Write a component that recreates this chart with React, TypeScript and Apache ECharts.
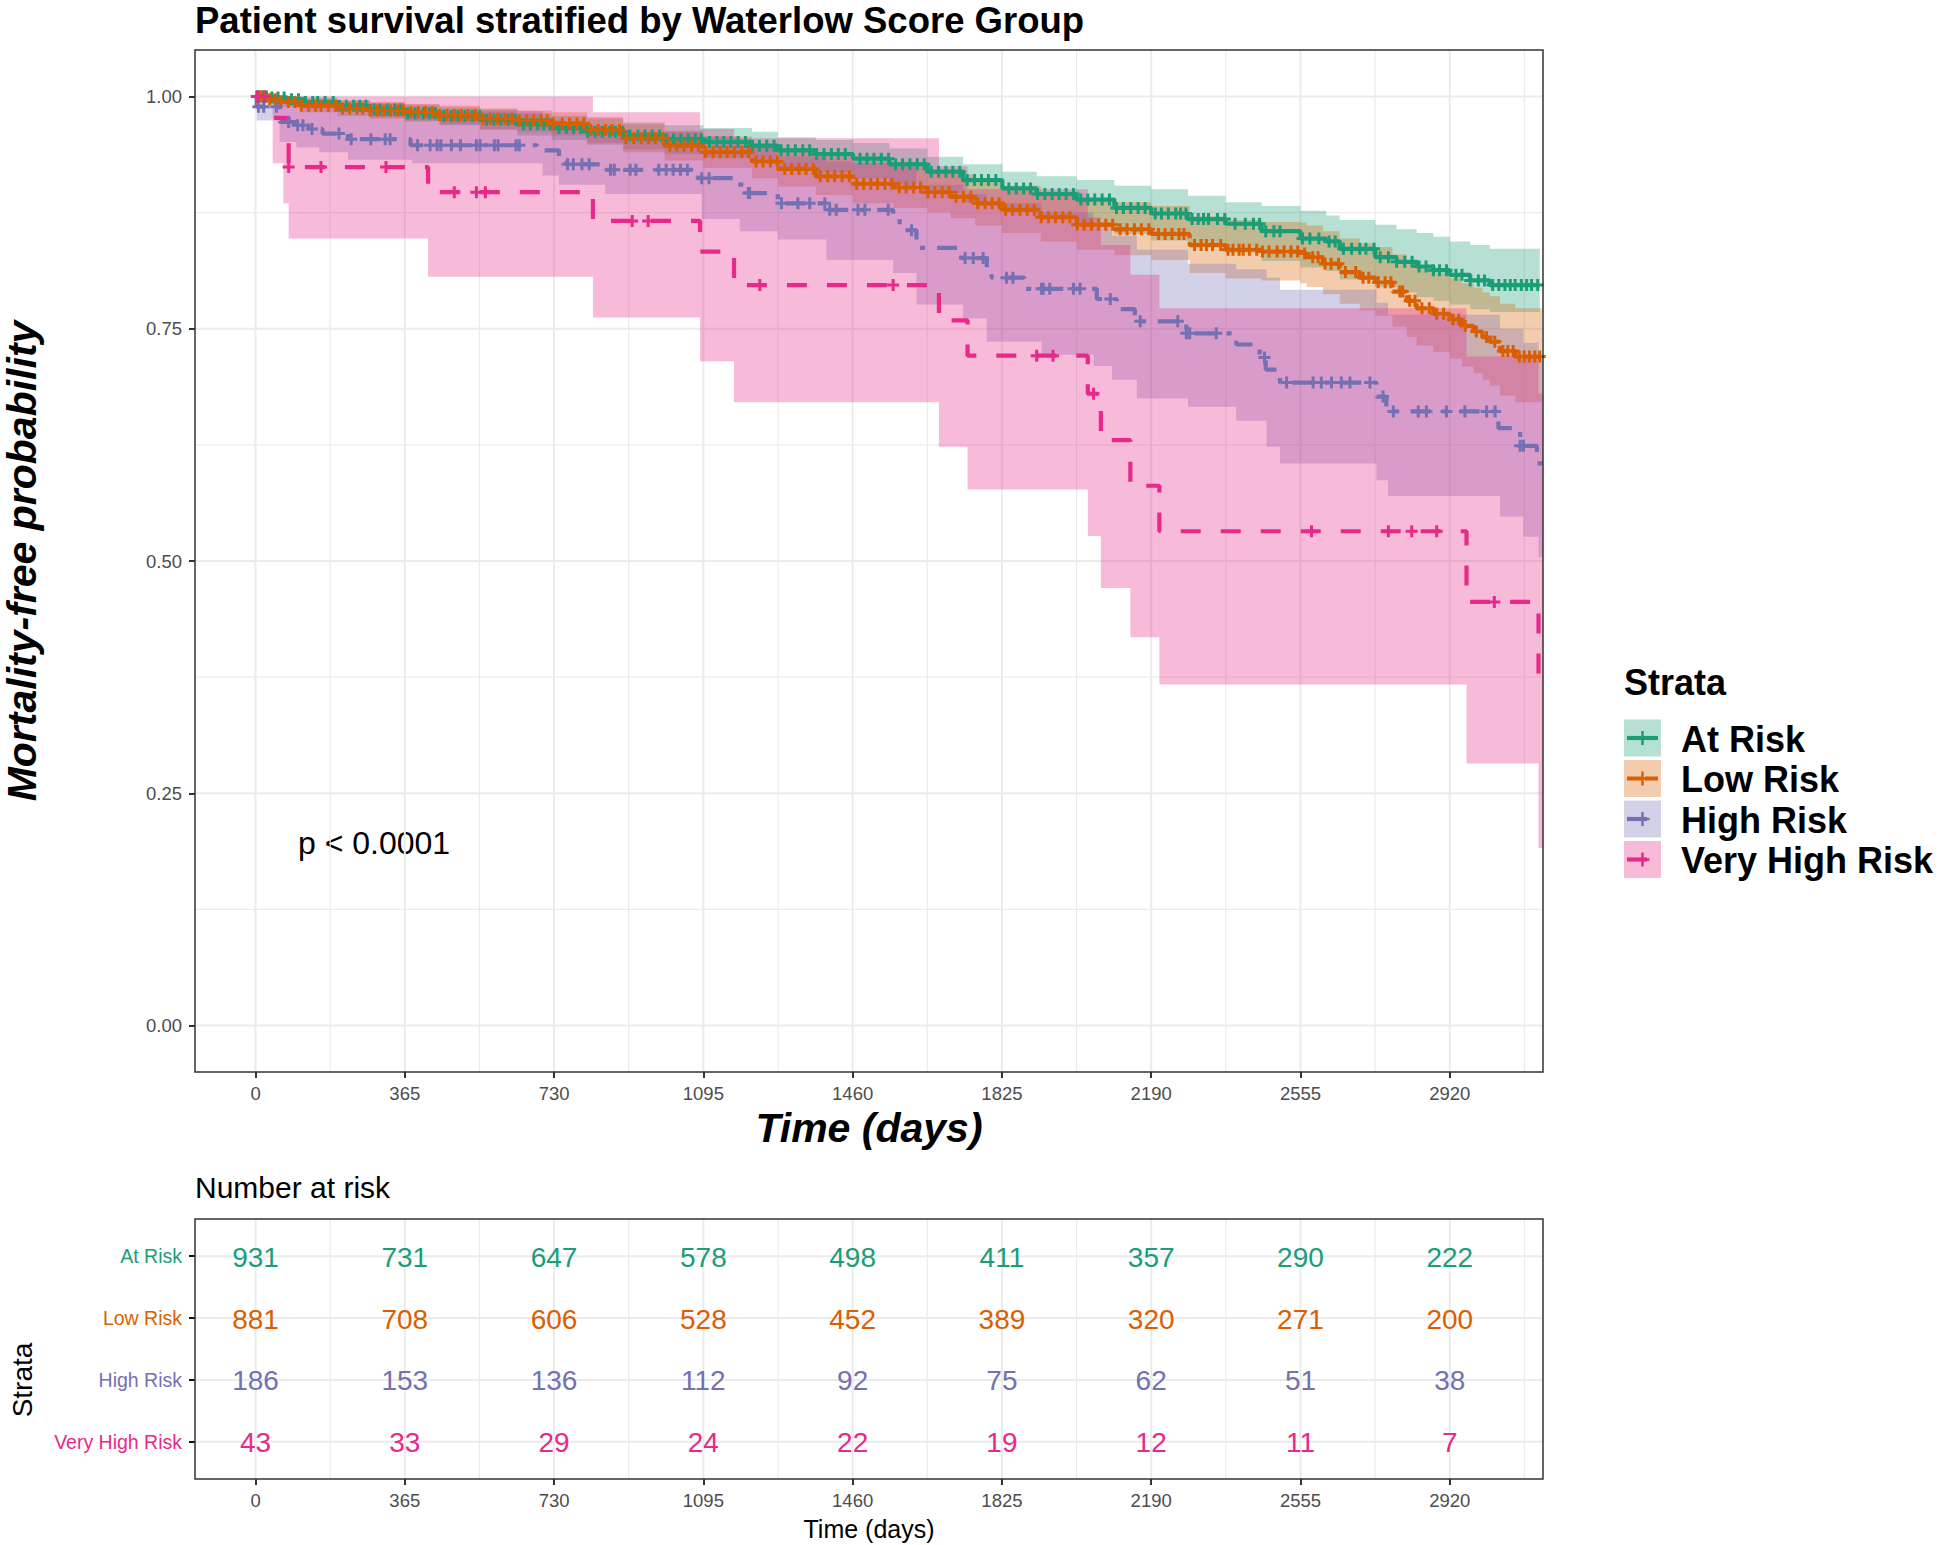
import React, { useEffect, useRef } from "react";
import * as echarts from "echarts";

// ---------- DATA ----------
const STRATA = ["At Risk", "Low Risk", "High Risk", "Very High Risk"];
const COLORS = ["#1B9E77", "#D95F02", "#7570B3", "#E7298A"];
const X_TICKS = [0, 365, 730, 1095, 1460, 1825, 2190, 2555, 2920];
const X_MINOR = [182.5, 547.5, 912.5, 1277.5, 1642.5, 2007.5, 2372.5, 2737.5, 3102.5];
const Y_TICKS = [0, 0.25, 0.5, 0.75, 1];
const Y_MINOR = [0.125, 0.375, 0.625, 0.875];
const TABLE_ROWS = [1, 2, 3, 4];

// Kaplan-Meier steps: [day, survival]
const AT_RISK_KM = [
  [0, 1.0], [30, 0.999], [77, 0.997], [120, 0.994], [200, 0.99], [280, 0.986], [365, 0.982], [450, 0.979],
  [549, 0.975], [640, 0.97], [724, 0.966], [810, 0.962], [899, 0.958], [1000, 0.954], [1095, 0.951],
  [1214, 0.947], [1277, 0.942], [1370, 0.938], [1461, 0.933], [1550, 0.927], [1643, 0.919], [1730, 0.91],
  [1826, 0.901], [1910, 0.895], [2008, 0.889], [2100, 0.88], [2190, 0.874], [2280, 0.868], [2372, 0.863],
  [2460, 0.855], [2555, 0.847], [2618, 0.844], [2651, 0.836], [2738, 0.827], [2790, 0.822], [2839, 0.817],
  [2880, 0.813], [2920, 0.808], [2970, 0.802], [3018, 0.797], [3140, 0.797],
];
const LOW_RISK_KM = [
  [0, 1.0], [25, 0.997], [50, 0.994], [112, 0.99], [200, 0.987], [280, 0.985], [365, 0.983], [450, 0.98],
  [549, 0.976], [640, 0.974], [724, 0.971], [811, 0.964], [899, 0.955], [1000, 0.947], [1095, 0.94],
  [1214, 0.93], [1277, 0.922], [1370, 0.914], [1461, 0.906], [1560, 0.902], [1643, 0.897], [1700, 0.892],
  [1760, 0.885], [1826, 0.878], [1920, 0.87], [2008, 0.862], [2100, 0.857], [2190, 0.852], [2284, 0.84],
  [2372, 0.835], [2460, 0.833], [2555, 0.831], [2570, 0.827], [2610, 0.82], [2651, 0.811], [2700, 0.805],
  [2738, 0.8], [2780, 0.79], [2815, 0.78], [2839, 0.772], [2880, 0.766], [2920, 0.76], [2950, 0.753],
  [2978, 0.747], [3000, 0.741], [3018, 0.736], [3043, 0.726], [3080, 0.72], [3145, 0.72],
];
const HIGH_RISK_KM = [
  [0, 1.0], [3, 0.989], [59, 0.9725], [100, 0.969], [130, 0.965], [164, 0.96], [226, 0.954], [379, 0.9475],
  [689, 0.942], [742, 0.93], [760, 0.927], [855, 0.921], [1083, 0.912], [1179, 0.905], [1200, 0.896],
  [1277, 0.885], [1400, 0.878], [1559, 0.869], [1575, 0.856], [1616, 0.837], [1726, 0.826], [1788, 0.812],
  [1800, 0.805], [1880, 0.793], [2057, 0.782], [2106, 0.771], [2150, 0.758], [2276, 0.745], [2398, 0.733],
  [2455, 0.719], [2470, 0.706], [2505, 0.692], [2741, 0.677], [2765, 0.661], [3039, 0.643], [3092, 0.624],
  [3133, 0.605], [3148, 0.605],
];
const VERY_HIGH_KM = [
  [0, 1.0], [42, 0.977], [81, 0.924], [422, 0.897], [825, 0.866], [1087, 0.833], [1170, 0.797],
  [1671, 0.759], [1741, 0.721], [2035, 0.68], [2067, 0.63], [2139, 0.581], [2210, 0.532], [2961, 0.456],
  [3137, 0.366], [3148, 0.366],
];

// Confidence bands: [day, lower, upper]
const AT_RISK_CI = [
  [0, 1, 1], [30, 0.997, 1], [77, 0.993, 1], [120, 0.989, 0.999], [200, 0.984, 0.996], [280, 0.978, 0.993],
  [365, 0.973, 0.991], [450, 0.969, 0.988], [549, 0.964, 0.986], [640, 0.958, 0.982], [724, 0.953, 0.979],
  [810, 0.948, 0.976], [899, 0.943, 0.972], [1000, 0.938, 0.969], [1095, 0.934, 0.966], [1214, 0.929, 0.962],
  [1277, 0.923, 0.956], [1370, 0.918, 0.953], [1461, 0.912, 0.95], [1550, 0.905, 0.944], [1643, 0.896, 0.935],
  [1730, 0.886, 0.927], [1826, 0.876, 0.919], [1910, 0.869, 0.914], [2008, 0.862, 0.91], [2100, 0.852, 0.904],
  [2190, 0.845, 0.9], [2280, 0.838, 0.893], [2372, 0.832, 0.886], [2460, 0.823, 0.882], [2555, 0.816, 0.877],
  [2618, 0.812, 0.872], [2651, 0.803, 0.867], [2738, 0.795, 0.862], [2790, 0.789, 0.857], [2839, 0.784, 0.853],
  [2880, 0.78, 0.849], [2920, 0.776, 0.844], [2970, 0.771, 0.84], [3018, 0.768, 0.836], [3140, 0.768, 0.836],
];
const LOW_RISK_CI = [
  [0, 1, 1], [25, 0.993, 1], [50, 0.989, 0.999], [112, 0.983, 0.997], [200, 0.979, 0.995], [280, 0.976, 0.994],
  [365, 0.974, 0.992], [450, 0.97, 0.99], [549, 0.965, 0.987], [640, 0.962, 0.985], [724, 0.958, 0.983],
  [811, 0.95, 0.978], [899, 0.94, 0.97], [1000, 0.931, 0.963], [1095, 0.923, 0.957], [1214, 0.912, 0.948],
  [1277, 0.903, 0.941], [1370, 0.894, 0.935], [1461, 0.885, 0.928], [1560, 0.88, 0.924], [1643, 0.875, 0.92],
  [1700, 0.869, 0.916], [1760, 0.861, 0.91], [1826, 0.853, 0.904], [1920, 0.844, 0.897], [2008, 0.835, 0.89],
  [2100, 0.829, 0.886], [2190, 0.824, 0.882], [2284, 0.81, 0.871], [2372, 0.804, 0.867], [2460, 0.802, 0.865],
  [2555, 0.799, 0.864], [2570, 0.795, 0.861], [2610, 0.787, 0.855], [2651, 0.777, 0.847], [2700, 0.77, 0.842],
  [2738, 0.764, 0.838], [2780, 0.752, 0.83], [2815, 0.741, 0.822], [2839, 0.732, 0.815], [2880, 0.725, 0.81],
  [2920, 0.718, 0.805], [2950, 0.709, 0.799], [2978, 0.702, 0.794], [3000, 0.695, 0.789], [3018, 0.689, 0.785],
  [3043, 0.678, 0.777], [3080, 0.671, 0.772], [3145, 0.671, 0.772],
];
const HIGH_RISK_CI = [
  [0, 1, 1], [3, 0.974, 1], [59, 0.951, 0.994], [100, 0.945, 0.992], [156, 0.94, 0.99], [226, 0.932, 0.987],
  [383, 0.928, 0.984], [702, 0.915, 0.974], [742, 0.905, 0.968], [855, 0.895, 0.962], [1091, 0.868, 0.957],
  [1184, 0.855, 0.948], [1277, 0.846, 0.935], [1396, 0.824, 0.93], [1559, 0.81, 0.925], [1616, 0.776, 0.905],
  [1730, 0.761, 0.895], [1788, 0.736, 0.885], [1922, 0.722, 0.875], [2049, 0.71, 0.862], [2094, 0.695, 0.85],
  [2155, 0.675, 0.835], [2280, 0.666, 0.82], [2398, 0.651, 0.814], [2472, 0.623, 0.805], [2505, 0.605, 0.792],
  [2741, 0.587, 0.778], [2769, 0.57, 0.765], [3043, 0.548, 0.75], [3100, 0.526, 0.735], [3137, 0.504, 0.72],
  [3148, 0.504, 0.72],
];
const VERY_HIGH_CI = [
  [0, 1, 1], [42, 0.928, 1], [68, 0.885, 1], [81, 0.847, 1], [422, 0.806, 1], [825, 0.762, 0.983],
  [1087, 0.715, 0.965], [1170, 0.671, 0.955], [1671, 0.623, 0.925], [1741, 0.577, 0.9], [2035, 0.527, 0.87],
  [2067, 0.471, 0.84], [2139, 0.418, 0.808], [2210, 0.367, 0.772], [2961, 0.282, 0.72], [3137, 0.191, 0.68],
  [3148, 0.191, 0.68],
];

// Censoring times (days)
const AT_RISK_CENSOR = [
  3, 10, 18, 27, 40, 55, 70, 88, 105, 122, 140, 152, 170, 190, 205, 222, 240, 255, 270, 290, 305, 322, 340, 355,
  372, 390, 410, 425, 440, 460, 478, 495, 512, 530, 548, 565, 583, 600, 618, 635, 655, 672, 690, 705, 720,
  742, 760, 778, 795, 812, 830, 848, 866, 880, 898, 915, 935, 952, 970, 988, 1005, 1022, 1040, 1058, 1075, 1090,
  1110, 1128, 1145, 1162, 1180, 1198, 1215, 1232, 1250, 1268, 1285, 1302, 1320, 1338, 1355, 1372, 1390, 1408,
  1425, 1442, 1478, 1495, 1512, 1530, 1548, 1565, 1582, 1600, 1618, 1635, 1652, 1670, 1688, 1705, 1722, 1740,
  1758, 1775, 1792, 1810, 1842, 1860, 1878, 1895, 1912, 1930, 1948, 1965, 1982, 2000, 2018, 2035, 2052, 2070,
  2088, 2105, 2122, 2140, 2158, 2175, 2200, 2215, 2232, 2250, 2262, 2275, 2290, 2305, 2318, 2330, 2352, 2370,
  2395, 2420, 2440, 2455, 2470, 2490, 2505, 2560, 2578, 2600, 2625, 2640, 2660, 2680, 2700, 2715, 2735, 2750,
  2770, 2790, 2810, 2828, 2845, 2862, 2880, 2895, 2912, 2935, 2950, 2970, 2990, 3005, 3025, 3040, 3055, 3068,
  3080, 3095, 3108, 3120, 3135,
];
const LOW_RISK_CENSOR = [
  6, 14, 23, 35, 48, 62, 80, 96, 112, 130, 147, 160, 178, 196, 213, 230, 248, 262, 280, 298, 314, 330, 348, 362,
  380, 398, 416, 433, 450, 468, 486, 503, 520, 538, 556, 574, 592, 610, 627, 645, 663, 680, 698, 713, 728,
  750, 768, 786, 803, 820, 838, 856, 872, 890, 906, 925, 943, 961, 978, 996, 1013, 1030, 1048, 1066, 1083,
  1100, 1119, 1136, 1153, 1171, 1189, 1206, 1224, 1241, 1259, 1276, 1294, 1311, 1329, 1346, 1364, 1381, 1399,
  1416, 1434, 1452, 1470, 1487, 1504, 1521, 1539, 1556, 1574, 1591, 1609, 1626, 1644, 1661, 1679, 1696, 1713,
  1731, 1749, 1766, 1784, 1801, 1818, 1834, 1851, 1869, 1887, 1904, 1921, 1939, 1956, 1974, 1991, 2009, 2026,
  2044, 2061, 2079, 2096, 2114, 2131, 2149, 2166, 2184, 2208, 2224, 2241, 2258, 2270, 2296, 2312, 2325, 2340,
  2360, 2378, 2390, 2405, 2415, 2430, 2448, 2462, 2478, 2498, 2515, 2532, 2548, 2565, 2585, 2598, 2615, 2630,
  2648, 2665, 2690, 2708, 2722, 2745, 2762, 2776, 2798, 2805, 2822, 2835, 2852, 2870, 2888, 2905, 2928, 2942,
  2958, 2985, 3010, 3030, 3050, 3062, 3075, 3090, 3102, 3115, 3128, 3140,
];
const HIGH_RISK_CENSOR = [
  7, 20, 51, 81, 103, 116, 138, 204, 234, 282, 317, 329, 396, 427, 444, 453, 479, 501, 540, 549, 584, 593, 637,
  645, 763, 777, 798, 816, 868, 877, 916, 930, 986, 1004, 1021, 1039, 1056, 1091, 1109, 1205, 1208, 1286, 1326,
  1355, 1392, 1404, 1420, 1473, 1490, 1547, 1604, 1735, 1755, 1779, 1836, 1852, 1922, 1926, 1942, 2000, 2016,
  2090, 2163, 2255, 2276, 2284, 2349, 2467, 2521, 2586, 2606, 2631, 2655, 2676, 2725, 2757, 2782, 2843, 2863,
  2912, 2957, 3010, 3031, 3092, 3100,
];
const VERY_HIGH_CENSOR = [
  5, 22, 81, 160, 319, 486, 540, 562, 921, 960, 1233, 1559, 1910, 1950, 2049, 2582, 2770, 2827, 2888, 3029,
];

// Number at risk
const AT_RISK_N = [931, 731, 647, 578, 498, 411, 357, 290, 222];
const LOW_RISK_N = [881, 708, 606, 528, 452, 389, 320, 271, 200];
const HIGH_RISK_N = [186, 153, 136, 112, 92, 75, 62, 51, 38];
const VERY_HIGH_N = [43, 33, 29, 24, 22, 19, 12, 11, 7];

// ---------- LAYOUT / STYLE ----------
const X_MIN = -148;
const X_MAX = 3148;
const MAIN = { left: 195, top: 50, width: 1348, height: 1022 };
const TABLE = { left: 195, top: 1219, width: 1348, height: 260 };
const FONT = '"Liberation Sans", Arial, Helvetica, sans-serif';
const DASHES: any[] = [null, [14, 4], [20, 12, 5, 12], [20, 20]];
const LINE_W = 4.2;
const PLUS = "path://M4.5,0H7.5V4.5H12V7.5H7.5V12H4.5V7.5H0V4.5H4.5Z";

const KMS = [AT_RISK_KM, LOW_RISK_KM, HIGH_RISK_KM, VERY_HIGH_KM];
const CIS = [AT_RISK_CI, LOW_RISK_CI, HIGH_RISK_CI, VERY_HIGH_CI];
const CENSORS = [AT_RISK_CENSOR, LOW_RISK_CENSOR, HIGH_RISK_CENSOR, VERY_HIGH_CENSOR];
const NS = [AT_RISK_N, LOW_RISK_N, HIGH_RISK_N, VERY_HIGH_N];

function survAt(km: number[][], t: number) {
  let v = km[0][1];
  for (const [d, s] of km) {
    if (d <= t) v = s;
    else break;
  }
  return v;
}

function bandSeries(ci: number[][], color: string) {
  return {
    type: "custom",
    xAxisIndex: 0,
    yAxisIndex: 0,
    z: 1,
    silent: true,
    clip: true,
    data: [[0, 1]],
    renderItem: (params: any, api: any) => {
      const pts: number[][] = [];
      for (let i = 0; i < ci.length - 1; i++) {
        pts.push(api.coord([ci[i][0], ci[i][2]]));
        pts.push(api.coord([ci[i + 1][0], ci[i][2]]));
      }
      for (let i = ci.length - 2; i >= 0; i--) {
        pts.push(api.coord([ci[i + 1][0], ci[i][1]]));
        pts.push(api.coord([ci[i][0], ci[i][1]]));
      }
      return {
        type: "polygon",
        shape: { points: pts },
        style: { fill: color, opacity: 0.32, stroke: null },
      };
    },
  };
}

// kind: 0 vertical grid line, 1 horizontal grid line
function gridSeries(axisIdx: number, vMajor: number[], vMinor: number[], hMajor: number[], hMinor: number[]) {
  const data = [
    ...vMajor.map((v) => [v, 0, 1]),
    ...vMinor.map((v) => [v, 0, 0]),
    ...hMajor.map((v) => [v, 1, 1]),
    ...hMinor.map((v) => [v, 1, 0]),
  ];
  return {
    type: "custom",
    xAxisIndex: axisIdx,
    yAxisIndex: axisIdx,
    z: 0,
    silent: true,
    data,
    renderItem: (params: any, api: any) => {
      const cs = params.coordSys;
      const v = api.value(0);
      const kind = api.value(1);
      const major = api.value(2);
      const style = { stroke: "#EBEBEB", lineWidth: major ? 2 : 1.2 };
      if (kind === 0) {
        const x = api.coord([v, 0.5])[0];
        return { type: "line", shape: { x1: x, y1: cs.y, x2: x, y2: cs.y + cs.height }, style };
      }
      const y = api.coord([0, v])[1];
      return { type: "line", shape: { x1: cs.x, y1: y, x2: cs.x + cs.width, y2: y }, style };
    },
  };
}

function buildOption() {
  const series: any[] = [];
  series.push(gridSeries(0, X_TICKS, X_MINOR, Y_TICKS, Y_MINOR));
  series.push(gridSeries(1, X_TICKS, X_MINOR, TABLE_ROWS, []));
  CIS.forEach((ci, i) => series.push(bandSeries(ci, COLORS[i])));
  KMS.forEach((km, i) => {
    series.push({
      type: "line",
      name: STRATA[i],
      xAxisIndex: 0,
      yAxisIndex: 0,
      z: 2,
      step: "end",
      silent: true,
      showSymbol: false,
      symbol: "none",
      clip: true,
      data: km,
      lineStyle: { color: COLORS[i], width: LINE_W, type: DASHES[i] || "solid", cap: "butt" },
    });
  });
  CENSORS.forEach((cs, i) => {
    series.push({
      type: "scatter",
      xAxisIndex: 0,
      yAxisIndex: 0,
      z: 3,
      silent: true,
      symbol: PLUS,
      symbolSize: 12,
      itemStyle: { color: COLORS[i], opacity: 1 },
      data: cs.map((t) => [t, survAt(KMS[i], t)]),
    });
  });
  const tableData: number[][] = [];
  NS.forEach((ns, i) => ns.forEach((n, j) => tableData.push([X_TICKS[j], i + 1, n, i])));
  series.push({
    type: "custom",
    xAxisIndex: 1,
    yAxisIndex: 1,
    z: 3,
    silent: true,
    data: tableData,
    renderItem: (params: any, api: any) => {
      const p = api.coord([api.value(0), api.value(1)]);
      return {
        type: "text",
        x: p[0],
        y: p[1] + 1,
        z2: 10,
        style: {
          text: String(api.value(2)),
          fill: COLORS[api.value(3)],
          font: `28px ${FONT}`,
          textAlign: "center",
          textVerticalAlign: "middle",
          align: "center",
          verticalAlign: "middle",
        },
      };
    },
  });

  const axisLineHidden = { show: true, onZero: false, lineStyle: { color: "rgba(0,0,0,0)", width: 0.01 } };
  const tickStyle = { show: true, inside: false, length: 6, lineStyle: { color: "#333333", width: 2 } };
  const labelBase = { color: "#4D4D4D", fontSize: 18.5, fontFamily: FONT };
  const xAxisBase = (gridIndex: number) => ({
    type: "value",
    gridIndex,
    position: "bottom",
    min: X_MIN,
    max: X_MAX,
    axisLine: axisLineHidden,
    splitLine: { show: false },
    axisTick: { ...tickStyle, customValues: X_TICKS },
    axisLabel: { ...labelBase, customValues: X_TICKS, margin: 12, formatter: (v: number) => String(v) },
  });

  const rich: any = {};
  STRATA.forEach((s, i) => {
    rich["r" + (i + 1)] = { color: COLORS[i], fontSize: 19.5, fontFamily: FONT };
  });

  const legendEls: any[] = [];
  const LX = 1624;
  const LY0 = 738;
  const LDY = 40.5;
  legendEls.push({
    type: "text",
    x: LX,
    y: 682,
    style: { text: "Strata", font: `bold 36px ${FONT}`, fill: "#000", textVerticalAlign: "middle", verticalAlign: "middle" },
  });
  STRATA.forEach((s, i) => {
    const cy = LY0 + i * LDY;
    legendEls.push({
      type: "rect",
      shape: { x: LX, y: cy - 18.5, width: 37, height: 37 },
      style: { fill: COLORS[i], opacity: 0.32 },
    });
    legendEls.push({
      type: "line",
      shape: { x1: LX + 3, y1: cy, x2: LX + 34, y2: cy },
      style: { stroke: COLORS[i], lineWidth: LINE_W, lineDash: DASHES[i] || null },
    });
    legendEls.push({
      type: "line",
      shape: { x1: LX + 18.5, y1: cy - 7, x2: LX + 18.5, y2: cy + 7 },
      style: { stroke: COLORS[i], lineWidth: 2.5 },
    });
    legendEls.push({
      type: "line",
      shape: { x1: LX + 11.5, y1: cy, x2: LX + 25.5, y2: cy },
      style: { stroke: COLORS[i], lineWidth: 2.5 },
    });
    legendEls.push({
      type: "text",
      x: 1681,
      y: cy + 1,
      style: { text: s, font: `bold 36px ${FONT}`, fill: "#000", textVerticalAlign: "middle", verticalAlign: "middle" },
    });
  });

  const graphic: any[] = [
    {
      type: "text",
      x: 195,
      y: 20,
      style: { text: "Patient survival stratified by Waterlow Score Group", font: `bold 36.5px ${FONT}`, fill: "#000", textVerticalAlign: "middle", verticalAlign: "middle" },
    },
    {
      type: "text",
      x: 22,
      y: 561,
      rotation: Math.PI / 2,
      style: { text: "Mortality-free probability", font: `italic bold 41px ${FONT}`, fill: "#000", textAlign: "center", align: "center", textVerticalAlign: "middle", verticalAlign: "middle" },
    },
    {
      type: "text",
      x: 869,
      y: 1128,
      style: { text: "Time (days)", font: `italic bold 41px ${FONT}`, fill: "#000", textAlign: "center", align: "center", textVerticalAlign: "middle", verticalAlign: "middle" },
    },
    {
      type: "text",
      x: 298,
      y: 843,
      style: { text: "p < 0.0001", font: `32px ${FONT}`, fill: "#000", textVerticalAlign: "middle", verticalAlign: "middle" },
    },
    {
      type: "text",
      x: 195,
      y: 1187,
      style: { text: "Number at risk", font: `30px ${FONT}`, fill: "#000", textVerticalAlign: "middle", verticalAlign: "middle" },
    },
    {
      type: "text",
      x: 22,
      y: 1380,
      rotation: Math.PI / 2,
      style: { text: "Strata", font: `28px ${FONT}`, fill: "#000", textAlign: "center", align: "center", textVerticalAlign: "middle", verticalAlign: "middle" },
    },
    {
      type: "text",
      x: 869,
      y: 1529,
      style: { text: "Time (days)", font: `25px ${FONT}`, fill: "#000", textAlign: "center", align: "center", textVerticalAlign: "middle", verticalAlign: "middle" },
    },
    {
      type: "rect",
      z: 100,
      shape: { x: MAIN.left, y: MAIN.top, width: MAIN.width, height: MAIN.height },
      style: { fill: "transparent", stroke: "#333333", lineWidth: 1.5 },
    },
    {
      type: "rect",
      z: 100,
      shape: { x: TABLE.left, y: TABLE.top, width: TABLE.width, height: TABLE.height },
      style: { fill: "transparent", stroke: "#333333", lineWidth: 1.5 },
    },
    ...legendEls,
  ];

  return {
    animation: false,
    backgroundColor: "#FFFFFF",
    textStyle: { fontFamily: FONT },
    grid: [
      { ...MAIN, show: false, containLabel: false },
      { ...TABLE, show: false, containLabel: false },
    ],
    xAxis: [xAxisBase(0), xAxisBase(1)],
    yAxis: [
      {
        type: "value",
        gridIndex: 0,
        position: "left",
        min: -0.05,
        max: 1.05,
        axisLine: axisLineHidden,
        splitLine: { show: false },
        axisTick: { ...tickStyle, customValues: Y_TICKS },
        axisLabel: { ...labelBase, customValues: Y_TICKS, margin: 13, formatter: (v: number) => v.toFixed(2) },
      },
      {
        type: "value",
        gridIndex: 1,
        position: "left",
        inverse: true,
        min: 0.4,
        max: 4.6,
        axisLine: axisLineHidden,
        splitLine: { show: false },
        axisTick: { ...tickStyle, lineStyle: { color: "#111111", width: 2 }, customValues: TABLE_ROWS },
        axisLabel: {
          customValues: TABLE_ROWS,
          margin: 13,
          fontSize: 19.5,
          fontFamily: FONT,
          formatter: (v: number) => `{r${v}|${STRATA[v - 1]}}`,
          rich,
        },
      },
    ],
    series,
    graphic,
  };
}

export default function App() {
  const ref = useRef<HTMLDivElement>(null);
  useEffect(() => {
    document.body.style.margin = "0";
    if (!ref.current) return;
    const chart = echarts.init(ref.current, undefined, { renderer: "svg" });
    chart.setOption(buildOption() as any);
    return () => chart.dispose();
  }, []);
  return <div ref={ref} style={{ width: 1944, height: 1545, background: "#fff" }} />;
}
